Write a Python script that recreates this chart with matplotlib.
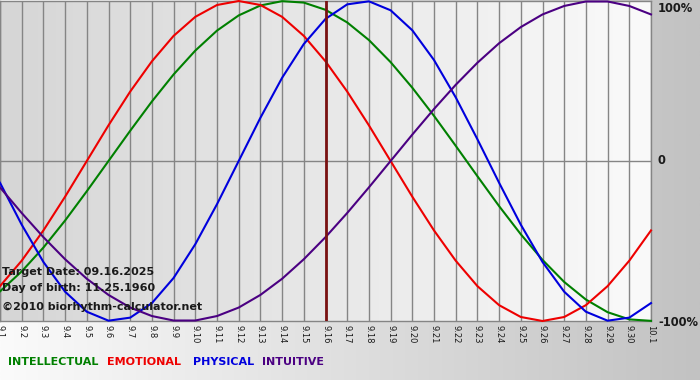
# biorhythm chart 9.1 - 10.1
import matplotlib
matplotlib.use('Agg')
import matplotlib.pyplot as plt
from matplotlib.colors import LinearSegmentedColormap
import numpy as np

# datos (un valor por dia)
dias = ['9.1', '9.2', '9.3', '9.4', '9.5', '9.6', '9.7', '9.8', '9.9', '9.10',
        '9.11', '9.12', '9.13', '9.14', '9.15', '9.16', '9.17', '9.18', '9.19', '9.20',
        '9.21', '9.22', '9.23', '9.24', '9.25', '9.26', '9.27', '9.28', '9.29', '9.30', '10.1']

intelectual = [-0.815, -0.690, -0.541, -0.372, -0.189, 0.0, 0.189, 0.372, 0.541, 0.690,
               0.815, 0.910, 0.972, 0.999, 0.990, 0.945, 0.866, 0.756, 0.618, 0.458,
               0.282, 0.095, -0.095, -0.282, -0.458, -0.618, -0.756, -0.866, -0.945, -0.990, -0.999]
emocional = [-0.782, -0.623, -0.434, -0.223, 0.0, 0.223, 0.434, 0.623, 0.782, 0.901,
             0.975, 1.0, 0.975, 0.901, 0.782, 0.623, 0.434, 0.223, 0.0, -0.223,
             -0.434, -0.623, -0.782, -0.901, -0.975, -1.0, -0.975, -0.901, -0.782, -0.623, -0.434]
fisico = [-0.136, -0.398, -0.631, -0.817, -0.942, -0.998, -0.979, -0.888, -0.731, -0.520,
          -0.270, 0.0, 0.270, 0.520, 0.731, 0.888, 0.979, 0.998, 0.942, 0.817,
          0.631, 0.398, 0.136, -0.136, -0.398, -0.631, -0.817, -0.942, -0.998, -0.979, -0.888]
intuitivo = [-0.165, -0.325, -0.476, -0.614, -0.736, -0.837, -0.916, -0.969, -0.997, -0.997,
             -0.969, -0.916, -0.837, -0.736, -0.614, -0.476, -0.325, -0.165, 0.0, 0.165,
             0.325, 0.476, 0.614, 0.736, 0.837, 0.916, 0.969, 0.997, 0.997, 0.969, 0.916]

dia_objetivo = '9.16'
textos_info = ['Target Date: 09.16.2025', 'Day of birth: 11.25.1960', '\u00a92010 biorhythm-calculator.net']
leyenda = [('INTELLECTUAL', '#008000'), ('EMOTIONAL', '#ee0000'),
           ('PHYSICAL', '#0000dd'), ('INTUITIVE', '#4b0082')]

W, H = 700, 380
fig = plt.figure(figsize=(W / 100, H / 100), dpi=100)

# fondo de la figura: degradado claro -> gris
fondo = fig.add_axes([0, 0, 1, 1])
grad = np.linspace(0, 1, 256).reshape(1, -1)
cmap_fondo = LinearSegmentedColormap.from_list('f', ['#fbfbfb', '#c2c2c2'])
fondo.imshow(grad, cmap=cmap_fondo, aspect='auto', extent=[0, 1, 0, 1])
fondo.set_axis_off()

# area del grafico
ax = fig.add_axes([0, 59 / H, 651 / W, 320 / H])
x = np.arange(len(dias))
cmap_area = LinearSegmentedColormap.from_list('a', ['#d6d6d6', '#fafafa'])
ax.imshow(grad, cmap=cmap_area, aspect='auto', extent=[0, len(dias) - 1, -1, 1], zorder=0)

for xi in x:
    ax.axvline(xi, color='#858585', lw=1, zorder=1)
ax.axhline(0, color='#858585', lw=1, zorder=1)

ax.plot(x, intelectual, color='#008000', lw=1.5, zorder=3, clip_on=False)
ax.plot(x, emocional, color='#ee0000', lw=1.5, zorder=3, clip_on=False)
ax.plot(x, fisico, color='#0000dd', lw=1.5, zorder=3, clip_on=False)
ax.plot(x, intuitivo, color='#4b0082', lw=1.5, zorder=3, clip_on=False)

ax.axvline(dias.index(dia_objetivo), color='#7a1212', lw=2, zorder=4)

ax.set_xlim(0, len(dias) - 1)
ax.set_ylim(-1, 1)
ax.set_xticks(x)
ax.set_xticklabels(dias, rotation=270, fontsize=6, color='#1a1a1a')
ax.tick_params(axis='x', length=0, pad=3)
ax.set_yticks([])
for s in ax.spines.values():
    s.set_color('#858585')
    s.set_linewidth(1)

# etiquetas de la derecha
for txt, ypx in [('100%', 8), ('0', 161), ('-100%', 322)]:
    fig.text(658 / W, 1 - ypx / H, txt, ha='left', va='center', fontsize=8.3,
             fontweight='bold', color='#1a1a1a')

# textos informativos
for txt, ypx in zip(textos_info, [272, 288, 307]):
    fig.text(2 / W, 1 - ypx / H, txt, ha='left', va='center', fontsize=8,
             fontweight='bold', color='#1a1a1a', zorder=5)

# leyenda
for (txt, col), xpx in zip(leyenda, [8, 107, 193, 262]):
    fig.text(xpx / W, 1 - 362 / H, txt, ha='left', va='center', fontsize=8,
             fontweight='bold', color=col)

plt.savefig('out.png', dpi=100)
plt.close()
